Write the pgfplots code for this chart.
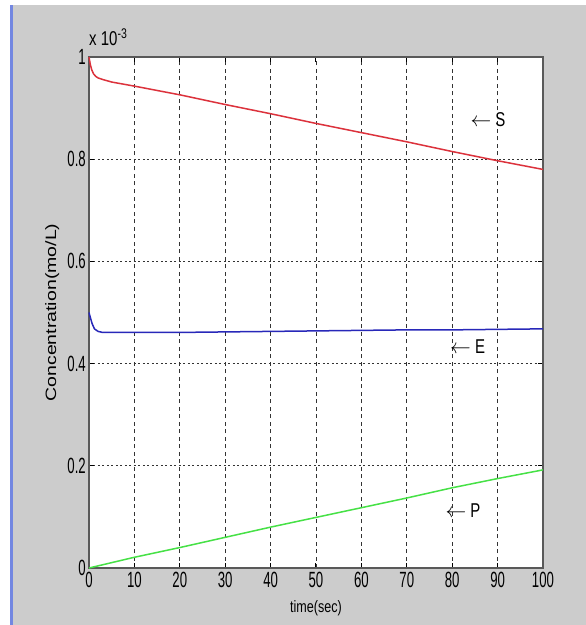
\documentclass[border=0pt]{standalone}
\usepackage{pgfplots}
\pgfplotsset{compat=1.18}
\usepackage{fontspec}
\setmainfont{Liberation Sans}[FakeStretch=0.76]
\newfontfamily\tickfont{Liberation Sans}[FakeStretch=0.6]
\newfontfamily\ylabfont{Liberation Sans}[FakeStretch=1.3]
\newfontfamily\notefont{Liberation Sans}[FakeStretch=0.75]
\definecolor{figgray}{RGB}{204,204,204}
\definecolor{edgeblue}{RGB}{115,135,225}
\definecolor{sred}{RGB}{220,50,60}
\definecolor{eblue}{RGB}{40,40,185}
\definecolor{pgreen}{RGB}{70,225,70}
\begin{document}
\begin{tikzpicture}
% figure window
\useasboundingbox (-89pt,-57pt) rectangle (497pt,568pt);
\fill[white] (-89pt,-57pt) rectangle (497pt,568pt);
\fill[figgray] (-77pt,-57pt) rectangle (497pt,563pt);
\fill[edgeblue] (-78.5pt,-57pt) rectangle (-76pt,563pt);
\begin{axis}[
    at={(0,0)}, anchor=south west,
    scale only axis,
    width=454pt, height=511pt,
    xmin=0, xmax=100, ymin=0, ymax=1,
    xtick={0,10,...,100},
    ytick={0,0.2,0.4,0.6,0.8,1},
    yticklabels={0,0.2,0.4,0.6,0.8,1},
    /pgf/number format/assume math mode=true,
    axis background/.style={fill=white},
    axis line style={line width=1.4pt, black!65},
    tick align=inside,
    major tick length=5pt,
    every tick/.style={black, line width=1pt},
    grid=major,
    major x grid style={black!80, line width=0.9pt, dash pattern=on 4pt off 3.5pt},
    major y grid style={black!80, line width=0.9pt, dash pattern=on 2pt off 2.5pt},
    tick label style={font=\tickfont\fontsize{22}{22}\selectfont, inner sep=1pt},
    xticklabel style={yshift=-3pt},
    yticklabel style={xshift=-2pt},
    xlabel={time(sec)},
    ylabel={\ylabfont\fontsize{15}{15}\selectfont Concentration(mo/L)},
    xlabel style={font=\fontsize{16.5}{16.5}\selectfont, at={(axis description cs:0.5,0)}, anchor=north, yshift=-32pt, inner sep=0pt},
    ylabel style={at={(axis description cs:-0.081,0.5)}, anchor=center, inner sep=0pt},
    clip=false,
]
% S
\addplot[sred, line width=1.5pt] coordinates {
(0,1.0)(0.3,0.985)(0.6,0.975)(1,0.967)(1.5,0.962)(2,0.959)(3,0.956)(5,0.951)
(10,0.943)(20,0.926)(30,0.907)(40,0.889)(50,0.870)(60,0.852)(70,0.834)
(80,0.815)(90,0.797)(100,0.780)
};
% E
\addplot[eblue, line width=1.5pt] coordinates {
(0,0.500)(0.3,0.490)(0.7,0.478)(1.2,0.468)(2,0.463)(3,0.461)(10,0.461)
(20,0.461)(30,0.462)(40,0.463)(50,0.464)(60,0.465)(70,0.466)(80,0.466)
(90,0.467)(100,0.468)
};
% P
\addplot[pgreen, line width=1.5pt] coordinates {
(0,0)(10,0.021)(20,0.040)(30,0.060)(40,0.080)(50,0.099)(60,0.118)
(70,0.137)(80,0.157)(90,0.175)(100,0.192)
};
\node[anchor=west, inner sep=0pt, font=\notefont\fontsize{20}{20}\selectfont] at (axis cs:84,0.877) {$\leftarrow$ S};
\node[anchor=west, inner sep=0pt, font=\notefont\fontsize{20}{20}\selectfont] at (axis cs:79.5,0.433) {$\leftarrow$ E};
\node[anchor=west, inner sep=0pt, font=\notefont\fontsize{20}{20}\selectfont] at (axis cs:78.5,0.112) {$\leftarrow$ P};
\node[anchor=south west, inner sep=0pt, font=\notefont\fontsize{20}{20}\selectfont] at (rel axis cs:0,1) [yshift=11pt] {x 10\textsuperscript{-3}};
\end{axis}
\end{tikzpicture}
\end{document}
